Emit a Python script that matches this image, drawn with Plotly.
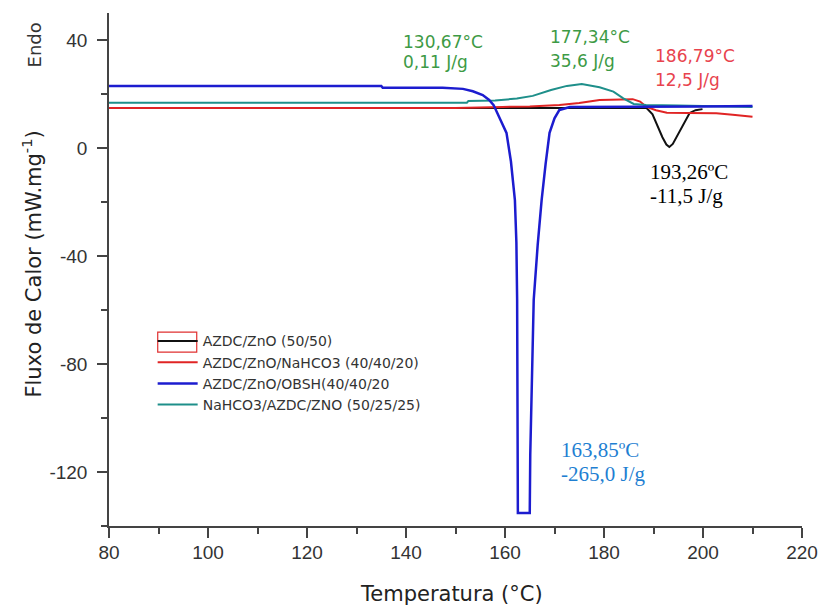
import plotly.graph_objects as go

# ---- data ----
series_names = ["AZDC/ZnO (50/50)", "AZDC/ZnO/NaHCO3 (40/40/20)",
                "AZDC/ZnO/OBSH(40/40/20", "NaHCO3/AZDC/ZNO (50/25/25)"]

temp_azdc_zno = [80, 150, 170, 185, 188.6, 189.8, 190.8, 191.8, 192.6, 193.2, 193.9,
                 194.8, 195.7, 196.6, 197.3, 198.5, 199.9]
flux_azdc_zno = [14.8, 14.8, 14.9, 15.0, 14.8, 12.5, 7.9, 4.0, 1.3, 0.4, 1.5,
                 4.5, 7.8, 10.8, 13.0, 14.0, 14.4]

temp_nahco3 = [80, 150, 159.5, 165, 171, 175, 179.1, 182, 185.8, 187.3, 188.6, 190.5,
               192.7, 197, 202.7, 206, 210]
flux_nahco3 = [14.8, 14.8, 15.2, 15.4, 15.9, 16.7, 17.8, 17.9, 18.1, 17.2, 15.2, 14.0,
               13.1, 13.0, 12.9, 12.3, 11.6]

temp_obsh = [80, 135, 135.3, 147.4, 151.5, 153.5, 155.5, 156.8, 157.7, 159.0, 160.3,
             161.2, 162.0, 162.3, 162.45, 162.6, 165.0, 165.1, 165.4, 165.8, 166.6,
             167.4, 168.2, 169.0, 170.0, 171.0, 173.1, 180, 190, 200, 210]
flux_obsh = [23.0, 23.0, 22.3, 22.3, 21.9, 21.0, 19.6, 17.8, 15.9, 11.0, 5.6,
             -5.0, -19.3, -35, -56.3, -135.2, -135.2, -113.7, -93, -56.3, -36,
             -19.3, -6, 5.6, 11.0, 14.1, 15.2, 15.2, 15.3, 15.4, 15.6]

temp_mix = [80, 152.3, 152.6, 158, 162.4, 165.6, 169.3, 172.5, 175.5, 179.1, 181.9,
            183.9, 186.0, 188.5, 195, 203, 210]
flux_mix = [16.8, 16.8, 17.4, 17.6, 18.3, 19.3, 21.5, 23.0, 23.7, 22.5, 20.9,
            18.4, 16.3, 15.9, 15.7, 15.5, 15.2]

x_ticks = [80, 100, 120, 140, 160, 180, 200, 220]
x_tick_labels = ["80", "100", "120", "140", "160", "180", "200", "220"]
y_ticks = [-120, -80, -40, 0, 40]
y_tick_labels = ["-120", "-80", "-40", "0", "40"]

# peak labels: (text, T, flux, colour, font, size)
peak_labels = [
    ("130,67°C", 138.9, 39.3, "#3d9a45", "DejaVu Sans", 17),
    ("0,11 J/g", 138.9, 31.9, "#3d9a45", "DejaVu Sans", 17),
    ("177,34°C", 168.6, 41.2, "#3d9a45", "DejaVu Sans", 17),
    ("35,6 J/g", 168.6, 32.2, "#3d9a45", "DejaVu Sans", 17),
    ("186,79°C", 189.8, 34.2, "#e8434e", "DejaVu Sans", 17),
    ("12,5 J/g", 189.8, 25.2, "#e8434e", "DejaVu Sans", 17),
    ("193,26ºC", 188.8, -8.9, "#000000", "Liberation Serif", 21),
    ("-11,5 J/g", 188.8, -17.8, "#000000", "Liberation Serif", 21),
    ("163,85ºC", 171.0, -111.9, "#1f7fd2", "Liberation Serif", 21),
    ("-265,0 J/g", 171.0, -120.9, "#1f7fd2", "Liberation Serif", 21),
]

fig = go.Figure()
# draw order: black, red, teal, blue ; legend order via legendrank
fig.add_trace(go.Scatter(x=temp_azdc_zno, y=flux_azdc_zno, mode="lines", name=series_names[0],
                         line=dict(color="#111111", width=2), legendrank=1))
fig.add_trace(go.Scatter(x=temp_nahco3, y=flux_nahco3, mode="lines", name=series_names[1],
                         line=dict(color="#e02424", width=2), legendrank=2))
fig.add_trace(go.Scatter(x=temp_mix, y=flux_mix, mode="lines", name=series_names[3],
                         line=dict(color="#1e8f8a", width=2), legendrank=4))
fig.add_trace(go.Scatter(x=temp_obsh, y=flux_obsh, mode="lines", name=series_names[2],
                         line=dict(color="#1c1ccf", width=2.5), legendrank=3))

axis_common = dict(showline=True, linecolor="#444", linewidth=1.5, ticks="outside",
                   ticklen=10, tickwidth=1.5, tickcolor="#444", showgrid=False, zeroline=False,
                   tickfont=dict(family="Liberation Sans", size=19, color="#333"),
                   automargin=False)

fig.update_xaxes(range=[80, 220], tickvals=x_ticks, ticktext=x_tick_labels, ticklabelstandoff=-2,
                 minor=dict(dtick=10, tick0=80, ticks="outside", ticklen=6, tickwidth=1.5,
                            tickcolor="#444", showgrid=False), **axis_common)
fig.update_yaxes(range=[-140, 50], tickvals=y_ticks, ticktext=y_tick_labels, ticklabelstandoff=6,
                 minor=dict(dtick=20, tick0=0, ticks="outside", ticklen=6, tickwidth=1.5,
                            tickcolor="#444", showgrid=False), **axis_common)

annotations = []
for text, tx, ty, col, fam, sz in peak_labels:
    annotations.append(dict(x=tx, y=ty, xref="x", yref="y", text=text, showarrow=False,
                            xanchor="left", yanchor="middle",
                            font=dict(family=fam, size=sz, color=col)))
annotations += [
    dict(x=0.4945, y=-0.1326, xref="paper", yref="paper", text="Temperatura (°C)",
         showarrow=False, xanchor="center", yanchor="middle",
         font=dict(family="DejaVu Sans", size=21, color="#222")),
    dict(x=-0.1115, y=0.511, xref="paper", yref="paper",
         text="Fluxo de Calor (mW.mg<sup>-1</sup>)", textangle=-90,
         showarrow=False, xanchor="center", yanchor="middle",
         font=dict(family="DejaVu Sans", size=21, color="#222")),
    dict(x=-0.108, y=0.937, xref="paper", yref="paper", text="Endo", textangle=-90,
         showarrow=False, xanchor="center", yanchor="middle",
         font=dict(family="DejaVu Sans", size=18, color="#333")),
]

fig.update_layout(
    width=821, height=610,
    margin=dict(l=109, r=19, t=13, b=84),
    plot_bgcolor="white", paper_bgcolor="white",
    showlegend=True,
    legend=dict(x=0.063, y=0.391, xanchor="left", yanchor="top",
                bgcolor="rgba(0,0,0,0)", borderwidth=0, itemwidth=40,
                font=dict(family="DejaVu Sans", size=14, color="#333")),
    annotations=annotations,
    shapes=[dict(type="rect", xref="paper", yref="paper", x0=0.0703, x1=0.1266,
                 y0=0.339, y1=0.378, line=dict(color="#e03030", width=1.2))],
)

fig.write_html("out.html", config={"displayModeBar": False},
               post_script="document.body.style.margin='0px';document.body.style.overflow='hidden';")
